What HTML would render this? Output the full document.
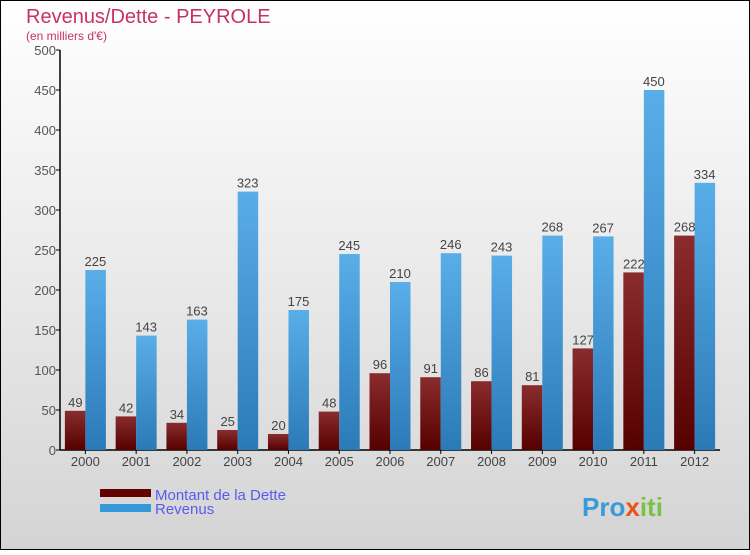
<!DOCTYPE html>
<html><head><meta charset="utf-8"><style>
body{margin:0}
svg text{font-family:"Liberation Sans","DejaVu Sans",sans-serif}
</style></head><body>
<svg width="750" height="550" xmlns="http://www.w3.org/2000/svg">
<defs>
<linearGradient id="bg" x1="0" y1="0" x2="0" y2="1"><stop offset="0" stop-color="#ffffff"/><stop offset="1" stop-color="#d4d4d4"/></linearGradient>
<linearGradient id="gd" x1="0" y1="0" x2="0" y2="1"><stop offset="0" stop-color="#8a2c2e"/><stop offset="1" stop-color="#560000"/></linearGradient>
<linearGradient id="gr" x1="0" y1="0" x2="0" y2="1"><stop offset="0" stop-color="#5aaee8"/><stop offset="1" stop-color="#2a7ab8"/></linearGradient>
</defs>
<rect x="0.5" y="0.5" width="749" height="549" fill="url(#bg)" stroke="#000"/>
<text x="26" y="23" font-size="20" fill="#c8325f">Revenus/Dette - PEYROLE</text>
<text x="26" y="40" font-size="12" fill="#c8325f">(en milliers d'€)</text>
<g id="axes"></g>
<g id="bars"></g>
<rect x="100" y="489" width="51" height="8" fill="#640000"/>
<text x="155" y="500" font-size="15" fill="#5a5aee">Montant de la Dette</text>
<rect x="100" y="504" width="51" height="8" fill="#3498db"/>
<text x="155" y="514" font-size="15" fill="#5a5aee">Revenus</text>
<text x="582" y="516" font-size="26" font-weight="bold" fill="#3a9ad8">Pro<tspan fill="#e8541a">x</tspan><tspan fill="#7cc242">iti</tspan></text>
</svg>
<script>
const years=["2000","2001","2002","2003","2004","2005","2006","2007","2008","2009","2010","2011","2012"];
const dette=[49,42,34,25,20,48,96,91,86,81,127,222,268];
const revenus=[225,143,163,323,175,245,210,246,243,268,267,450,334];
const yTicks=[0,50,100,150,200,250,300,350,400,450,500];
const NS="http://www.w3.org/2000/svg";
const x0=60,x1=720,y0=450,y1=50,vmax=500;
const step=(x1-x0)/years.length;
const ys=v=>y0-(y0-y1)*v/vmax;
function mk(t,a,p){const e=document.createElementNS(NS,t);for(const k in a)e.setAttribute(k,a[k]);p.appendChild(e);return e;}
const ax=document.getElementById('axes'),bg=document.getElementById('bars');
yTicks.forEach(t=>{
 const l=mk('line',{x1:x0-4,x2:x0,y1:ys(t),y2:ys(t),stroke:'#000'},ax);
 
 
 const tx=mk('text',{x:x0-4,y:ys(t)+5,'font-size':13,fill:'#555','text-anchor':'end'},ax);
 tx.textContent=t;
 
 
});
years.forEach((y,i)=>{
 const c=x0+step*(i+0.5);
 const d=mk('rect',{x:c-20.5,y:ys(dette[i]),width:20.5,height:y0-ys(dette[i]),fill:'url(#gd)'},bg);
 
 
 const r=mk('rect',{x:c,y:ys(revenus[i]),width:20.5,height:y0-ys(revenus[i]),fill:'url(#gr)'},bg);
 
 
 const dl=mk('text',{x:c-10,y:ys(dette[i])-4,'font-size':13,fill:'#444','text-anchor':'middle'},bg);
 dl.textContent=dette[i];
 
 
 const rl=mk('text',{x:c+10,y:ys(revenus[i])-4,'font-size':13,fill:'#444','text-anchor':'middle'},bg);
 rl.textContent=revenus[i];
 
 
 const tk=mk('line',{x1:c,x2:c,y1:y0,y2:y0+4,stroke:'#000'},ax);
 
 
 const xl=mk('text',{x:c,y:y0+16,'font-size':13,fill:'#444','text-anchor':'middle'},ax);
 xl.textContent=y;
 
 
});
const ya=mk('line',{x1:x0,x2:x0,y1:y1,y2:y0,stroke:'#000','stroke-width':1.5},ax);


const xa=mk('line',{x1:x0,x2:x1,y1:y0,y2:y0,stroke:'#000','stroke-width':1.5},ax);


</script>
</body></html>
